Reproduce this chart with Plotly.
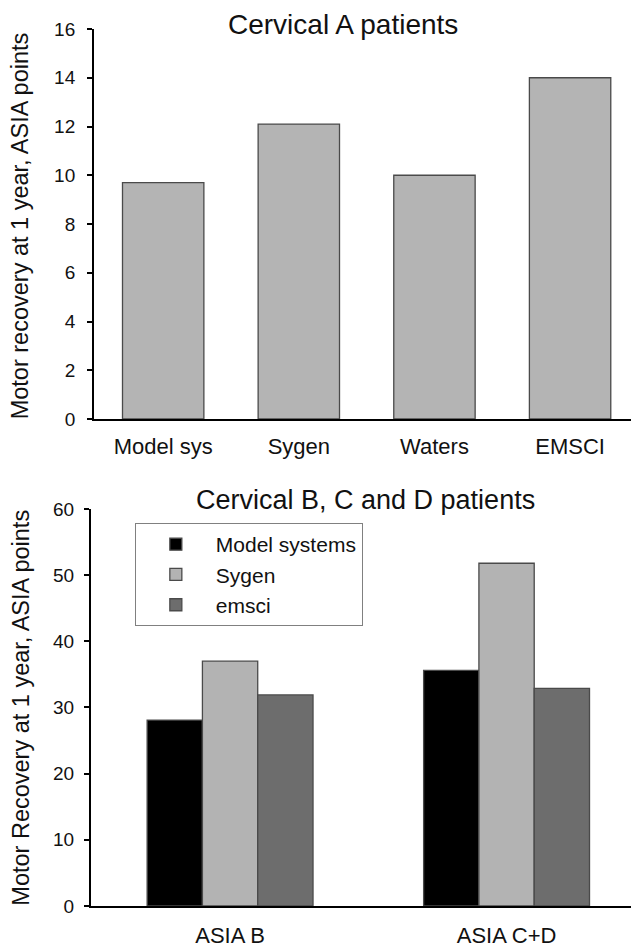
import plotly.graph_objects as go

# ---- data ----
top_categories = ["Model sys", "Sygen", "Waters", "EMSCI"]
top_values = [9.7, 12.1, 10.0, 14.0]

bottom_categories = ["ASIA B", "ASIA C+D"]
series_names = ["Model systems", "Sygen", "emsci"]
model_systems = [28.1, 35.6]
sygen = [37.0, 51.8]
emsci = [31.9, 32.9]
bottom_series = [model_systems, sygen, emsci]
series_colors = ["#000000", "#b3b3b3", "#6d6d6d"]

top_ticks = [0, 2, 4, 6, 8, 10, 12, 14, 16]
bottom_ticks = [0, 10, 20, 30, 40, 50, 60]

FONT = "Liberation Sans, Arial, sans-serif"

fig = go.Figure()

fig.add_trace(go.Bar(
    x=top_categories, y=top_values, xaxis="x", yaxis="y",
    marker=dict(color="#b4b4b4", line=dict(color="#4a4a4a", width=1.3)),
    showlegend=False,
))

for name, vals, col in zip(series_names, bottom_series, series_colors):
    fig.add_trace(go.Bar(
        x=bottom_categories, y=vals, name=name, xaxis="x2", yaxis="y2",
        marker=dict(color=col, line=dict(color="#4a4a4a", width=1.3)),
    ))

axis_common = dict(
    showline=True, linecolor="black", linewidth=2, showgrid=False,
    zeroline=False, automargin=False,
)

fig.update_layout(
    width=631, height=943,
    margin=dict(l=83, r=0, t=21, b=45),
    paper_bgcolor="white", plot_bgcolor="white",
    font=dict(family=FONT, color="#111111"),
    barmode="group", bargap=0.4, bargroupgap=0,
    xaxis=dict(**axis_common, domain=[0.0055, 0.998], anchor="y",
               range=[-0.51, 3.5], ticks="", tickfont=dict(size=22),
               ticklabelstandoff=7),
    yaxis=dict(**axis_common, domain=[0.5553, 1.0], anchor="x",
               range=[0, 16], tickvals=top_ticks, ticks="outside", ticklen=5,
               tickwidth=1.5, tickcolor="black", tickfont=dict(size=19),
               ticklabelstandoff=8),
    xaxis2=dict(**axis_common, domain=[0, 1], anchor="y2",
                range=[-0.503, 1.479], ticks="", tickfont=dict(size=22),
                ticklabelstandoff=9),
    yaxis2=dict(**axis_common, domain=[0, 0.4527], anchor="x2",
                range=[0, 60], tickvals=bottom_ticks, ticks="outside", ticklen=5,
                tickwidth=1.5, tickcolor="black", tickfont=dict(size=19),
                ticklabelstandoff=6),
    legend=dict(x=0.080, y=0.4367, xanchor="left", yanchor="top",
                bordercolor="#808080", borderwidth=1, bgcolor="white",
                font=dict(size=21), itemwidth=70,
                entrywidth=240, entrywidthmode="pixels",
                traceorder="normal"),
    annotations=[
        dict(text="Cervical A patients", x=0.459, y=1.0046, xref="paper", yref="paper",
             showarrow=False, font=dict(size=28), xanchor="center", yanchor="middle"),
        dict(text="Cervical B, C and D patients", x=0.5, y=0.463, xref="paper", yref="paper",
             showarrow=False, font=dict(size=27), xanchor="center", yanchor="middle"),
        dict(text="Motor recovery at 1 year, ASIA points", x=-0.128, y=0.776,
             xref="paper", yref="paper", showarrow=False, textangle=-90,
             font=dict(size=23.5), xanchor="center", yanchor="middle"),
        dict(text="Motor Recovery at 1 year, ASIA points", x=-0.128, y=0.226,
             xref="paper", yref="paper", showarrow=False, textangle=-90,
             font=dict(size=23.5), xanchor="center", yanchor="middle"),
    ],
)

fig.write_html("out.html")
